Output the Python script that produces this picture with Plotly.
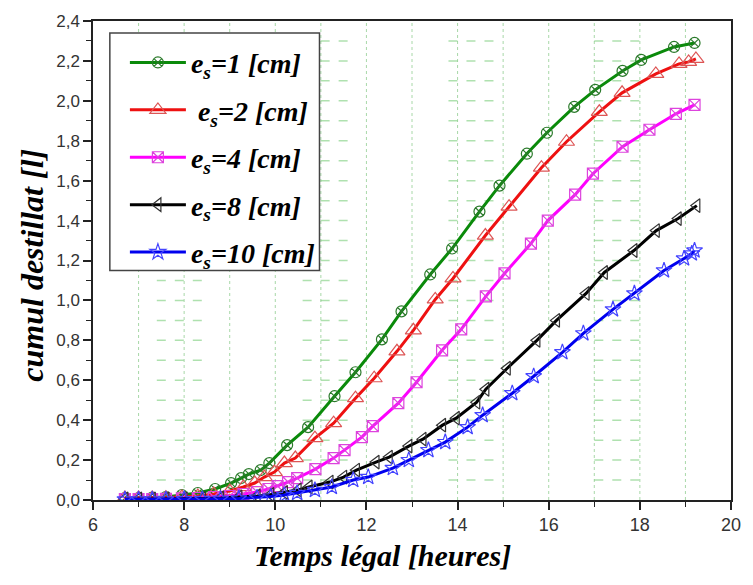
import plotly.graph_objects as go

# ---------------- data ----------------
x_es1 = [6.7, 7.0, 7.3, 7.6, 7.95, 8.3, 8.68, 9.03, 9.25, 9.42, 9.68, 9.87, 10.26, 10.72,
         11.30, 11.76, 12.34, 12.77, 13.40, 13.88, 14.48, 14.92, 15.52, 15.96, 16.56,
         17.02, 17.62, 18.03, 18.75, 19.2]
y_es1 = [0.01, 0.01, 0.012, 0.015, 0.025, 0.035, 0.055, 0.085, 0.11, 0.13, 0.15, 0.185,
         0.275, 0.365, 0.52, 0.64, 0.805, 0.945, 1.13, 1.26, 1.445, 1.575, 1.735, 1.84,
         1.97, 2.055, 2.15, 2.205, 2.27, 2.29]

x_es2 = [6.7, 7.0, 7.3, 7.6, 7.95, 8.3, 8.65, 9.0, 9.3, 9.55, 9.76, 9.98, 10.2, 10.44,
         10.87, 11.28, 11.76, 12.17, 12.67, 13.03, 13.51, 13.90, 14.61, 15.13, 15.84,
         16.39, 17.11, 17.61, 18.35, 18.86, 19.07, 19.23]
y_es2 = [0.01, 0.01, 0.01, 0.012, 0.015, 0.02, 0.03, 0.045, 0.065, 0.085, 0.115, 0.14,
         0.185, 0.21, 0.31, 0.385, 0.51, 0.61, 0.745, 0.85, 1.005, 1.11, 1.325, 1.47,
         1.665, 1.795, 1.945, 2.04, 2.135, 2.185, 2.195, 2.21]

x_es4 = [6.7, 7.0, 7.3, 7.6, 7.95, 8.3, 8.65, 9.0, 9.3, 9.6, 9.85, 10.05, 10.28, 10.48,
         10.88, 11.28, 11.52, 11.9, 12.14, 12.7, 13.1, 13.66, 14.08, 14.62, 15.03, 15.61,
         15.98, 16.58, 16.97, 17.62, 18.21, 18.79, 19.2]
y_es4 = [0.005, 0.005, 0.005, 0.006, 0.008, 0.01, 0.015, 0.02, 0.03, 0.04, 0.055, 0.07,
         0.09, 0.11, 0.155, 0.21, 0.25, 0.315, 0.37, 0.485, 0.59, 0.75, 0.855, 1.02,
         1.135, 1.285, 1.40, 1.53, 1.635, 1.77, 1.855, 1.935, 1.98]

x_es8 = [6.7, 7.0, 7.3, 7.6, 8.0, 8.4, 8.8, 9.2, 9.6, 9.9, 10.2, 10.5, 10.74, 11.2, 11.5,
         11.78, 12.21, 12.5, 12.93, 13.24, 13.67, 13.97, 14.42, 14.62, 15.09, 15.74, 16.17,
         16.82, 17.22, 17.87, 18.36, 18.84, 19.25]
y_es8 = [0.005, 0.005, 0.005, 0.005, 0.006, 0.008, 0.01, 0.015, 0.02, 0.028, 0.038, 0.05,
         0.065, 0.09, 0.115, 0.15, 0.19, 0.215, 0.27, 0.305, 0.375, 0.41, 0.49, 0.555,
         0.66, 0.80, 0.90, 1.035, 1.14, 1.25, 1.35, 1.41, 1.475]

x_es10 = [6.7, 7.0, 7.3, 7.6, 8.0, 8.4, 8.8, 9.2, 9.6, 9.9, 10.2, 10.48, 10.87, 11.24,
          11.71, 12.04, 12.58, 12.93, 13.36, 13.73, 14.22, 14.55, 15.2, 15.67, 16.3, 16.76,
          17.41, 17.88, 18.53, 18.97, 19.14, 19.2]
y_es10 = [0.003, 0.003, 0.003, 0.003, 0.004, 0.005, 0.006, 0.008, 0.012, 0.017, 0.025,
          0.035, 0.05, 0.065, 0.10, 0.115, 0.16, 0.20, 0.25, 0.29, 0.365, 0.425, 0.535,
          0.62, 0.74, 0.835, 0.955, 1.035, 1.15, 1.21, 1.235, 1.25]

series_names = ["e<sub>s</sub>=1 [cm]", " e<sub>s</sub>=2 [cm]", "e<sub>s</sub>=4 [cm]",
                "e<sub>s</sub>=8 [cm]", "e<sub>s</sub>=10 [cm]"]

x_tick_vals = [6, 8, 10, 12, 14, 16, 18, 20]
x_tick_text = ["6", "8", "10", "12", "14", "16", "18", "20"]
y_tick_vals = [0.0, 0.2, 0.4, 0.6, 0.8, 1.0, 1.2, 1.4, 1.6, 1.8, 2.0, 2.2, 2.4]
y_tick_text = ["0,0", "0,2", "0,4", "0,6", "0,8", "1,0", "1,2", "1,4", "1,6", "1,8",
               "2,0", "2,2", "2,4"]

# grid decoration (odd-looking green grid of the original)
grid_vlines = list(range(7, 20))
grid_hpatches = [(7.4, 8.5), (10.6, 11.6), (13.8, 14.9), (17.0, 18.1)]
grid_hlevels = [round(0.1 * k, 1) for k in range(1, 24)]

# ---------------- figure ----------------
fig = go.Figure()

gx, gy = [], []
for a, b in grid_hpatches:
    for lv in grid_hlevels:
        gx += [a, b, None]
        gy += [lv, lv, None]
fig.add_trace(go.Scatter(x=gx, y=gy, mode="lines", showlegend=False, hoverinfo="skip",
                         line=dict(color="rgba(110,200,110,0.55)", width=1.5, dash="dash")))
vx, vy = [], []
for v in grid_vlines:
    vx += [v, v, None]
    vy += [0, 2.4, None]
fig.add_trace(go.Scatter(x=vx, y=vy, mode="lines", showlegend=False, hoverinfo="skip",
                         line=dict(color="rgba(110,190,110,0.6)", width=1, dash="dot")))

styles = [
    (x_es1, y_es1, "#0a8a0a", "#2a7a2a", "circle-x-open", 11),
    (x_es2, y_es2, "#ee1111", "#dd5555", "triangle-up-open", 14),
    (x_es4, y_es4, "#ff00ff", "#dd44dd", "square-x-open", 11),
    (x_es8, y_es8, "#000000", "#333333", "triangle-left-open", 12),
    (x_es10, y_es10, "#0000ee", "#4444ff", "star-open", 12),
]

for i, ((xs, ys, lc, mc, sym, ms), name) in enumerate(zip(styles, series_names)):
    fig.add_trace(go.Scatter(
        x=xs, y=ys, mode="lines+markers", name=name, legendgroup=f"g{i}",
        line=dict(color=lc, width=3),
        marker=dict(symbol=sym, size=ms, color=mc, line=dict(color=mc, width=1.2)),
    ))

serif = "Liberation Serif"
fig.update_layout(
    width=753, height=585,
    margin=dict(l=93, r=15, t=20, b=85),
    paper_bgcolor="white", plot_bgcolor="white",
    showlegend=True,
    legend=dict(
        x=0.05, y=0.965, xanchor="left", yanchor="top",
        borderwidth=0, bgcolor="rgba(0,0,0,0)",
        font=dict(family=serif, size=28, color="black", weight="bold", style="italic"),
        itemwidth=56, tracegroupgap=8,
    ),
    shapes=[
        dict(type="rect", xref="paper", yref="paper", x0=0.0264, x1=0.355, y0=0.479, y1=0.975,
             line=dict(color="#444444", width=1.5), fillcolor="white", layer="above"),
    ],
    xaxis=dict(
        range=[6, 20], tickvals=x_tick_vals, ticktext=x_tick_text,
        showgrid=False, zeroline=False,
        showline=True, linecolor="#222222", linewidth=1.5, mirror=True,
        ticks="outside", ticklen=8, tickwidth=1.5, tickcolor="#222222",
        minor=dict(dtick=1, tick0=6, ticks="outside", ticklen=5, tickwidth=1.2,
                   tickcolor="#222222", showgrid=False),
        tickfont=dict(family="Liberation Sans", size=18, color="#333333"),
    ),
    yaxis=dict(
        range=[0, 2.4], tickvals=y_tick_vals, ticktext=y_tick_text,
        showgrid=False, zeroline=False,
        showline=True, linecolor="#222222", linewidth=1.5, mirror=True,
        ticks="outside", ticklen=8, tickwidth=1.5, tickcolor="#222222",
        minor=dict(dtick=0.1, tick0=0, ticks="outside", ticklen=5, tickwidth=1.2,
                   tickcolor="#222222", showgrid=False),
        tickfont=dict(family="Liberation Sans", size=17, color="#333333"),
    ),
    annotations=[
        dict(text="Temps légal [heures]", xref="paper", yref="paper", x=0.454, y=-0.116,
             xanchor="center", yanchor="middle", showarrow=False,
             font=dict(family=serif, size=30, color="black", weight="bold", style="italic")),
        dict(text="cumul destillat [l]", xref="paper", yref="paper", x=-0.095, y=0.49,
             xanchor="center", yanchor="middle", showarrow=False, textangle=-90,
             font=dict(family=serif, size=32, color="black", weight="bold", style="italic")),
    ],
)

fig.write_html("out.html")
